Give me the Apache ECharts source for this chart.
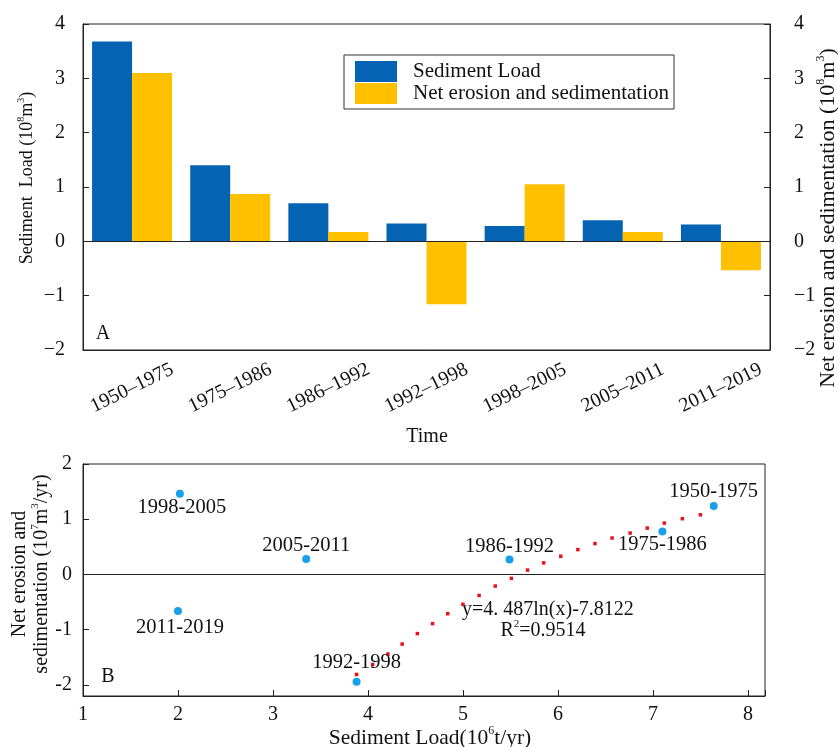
<!DOCTYPE html>
<html><head><meta charset="utf-8">
<script src="https://cdn.jsdelivr.net/npm/echarts@6/dist/echarts.min.js"></script>
<style>html,body{margin:0;padding:0;background:#fff}#c{width:838px;height:747px}</style>
</head><body><div id="c"></div>
<script>
// ---- Panel A data ----
const periods = ['1950–1975','1975–1986','1986–1992','1992–1998','1998–2005','2005–2011','2011–2019'];
const sedimentLoad = [3.68, 1.40, 0.70, 0.33, 0.28, 0.39, 0.31];
const netErosion = [3.10, 0.87, 0.17, -1.16, 1.05, 0.17, -0.53];
const yTicksTop = [-2, -1, 0, 1, 2, 3, 4];
// ---- Panel B data ----
const scatterNames = ['1950-1975','1975-1986','1986-1992','1992-1998','1998-2005','2005-2011','2011-2019'];
const scatterLoad = [7.64, 7.10, 5.49, 3.88, 2.02, 3.35, 2.00];
const scatterNet = [1.24, 0.78, 0.27, -1.94, 1.46, 0.28, -0.66];
const trendX = [3.88,4.05,4.21,4.36,4.52,4.68,4.84,5.00,5.17,5.34,5.51,5.68,5.85,6.03,6.21,6.39,6.57,6.76,6.94,7.12,7.31,7.50];
const trendY = [-1.81,-1.63,-1.44,-1.26,-1.07,-0.89,-0.71,-0.54,-0.38,-0.21,-0.07,0.08,0.21,0.33,0.45,0.56,0.66,0.75,0.84,0.93,1.01,1.08];
const yTicksBottom = [-2, -1, 0, 1, 2];
const xTicksBottom = [1, 2, 3, 4, 5, 6, 7, 8];

const FF = 'Liberation Serif';
const TXT = '#111';
const chart = echarts.init(document.getElementById('c'));

const labelOffsets = {
  '1950-1975': [0, -14], '1975-1986': [0, 13], '1986-1992': [0, -13],
  '1992-1998': [0, -19], '1998-2005': [2, 14], '2005-2011': [0, -13], '2011-2019': [2, 17]
};

function rich(size) {
  return {
    n: { fontSize: size, fontFamily: FF, color: TXT, lineHeight: size + 4 },
    s: { fontSize: Math.round(size * 0.55), fontFamily: FF, color: TXT, verticalAlign: 'top', lineHeight: Math.round(size * 0.55) }
  };
}
function gtext(x, y, text, size, rot, align) {
  return {
    type: 'text', x: x, y: y, rotation: rot || 0, silent: true,
    style: { text: text, rich: rich(size), font: size + 'px ' + FF, fill: TXT,
      align: align || 'center', verticalAlign: 'middle' }
  };
}

const axisLineStyle = { color: '#222', width: 1 };
const topYAxis = (pos) => ({
  type: 'value', gridIndex: 0, position: pos, min: -2, max: 4, interval: 1,
  axisLine: { show: true, lineStyle: axisLineStyle },
  axisTick: { show: true, inside: true, length: 6, lineStyle: axisLineStyle },
  splitLine: { show: false },
  axisLabel: { margin: pos === 'left' ? 18 : 24, fontSize: 20, fontFamily: FF, color: TXT,
    formatter: v => (yTicksTop.includes(v) ? String(v).replace('-', '−') : '') }
});

const option = {
  animation: false,
  backgroundColor: '#fff',
  grid: [
    { left: 83, right: 68, top: 24, bottom: 397, show: true, borderColor: '#222', borderWidth: 1, containLabel: false, outerBoundsMode: 'none' },
    { left: 83, right: 73, top: 464, bottom: 51, show: true, borderColor: '#222', borderWidth: 1, containLabel: false, outerBoundsMode: 'none' }
  ],
  legend: {
    data: ['Sediment Load', 'Net erosion and sedimentation'],
    orient: 'vertical', left: 344, top: 55, icon: 'rect',
    itemWidth: 42, itemHeight: 21, itemGap: 1,
    padding: [6, 5, 5, 11], borderColor: '#333', borderWidth: 1,
    textStyle: { fontSize: 21, fontFamily: FF, color: TXT, padding: [0, 0, 0, 11] }
  },
  xAxis: [
    { type: 'category', gridIndex: 0, data: periods, boundaryGap: true,
      axisLine: { onZero: false, lineStyle: axisLineStyle },
      axisTick: { inside: true, alignWithLabel: true, length: 7, lineStyle: axisLineStyle },
      axisLabel: { rotate: 26, align: 'center', verticalAlign: 'middle', margin: 38, fontSize: 20, fontFamily: FF, color: TXT, interval: 0 },
      splitLine: { show: false } },
    { type: 'value', gridIndex: 1, min: 1, max: 8.18, interval: 1,
      axisLine: { onZero: false, lineStyle: axisLineStyle },
      axisTick: { inside: true, length: 6, lineStyle: axisLineStyle },
      splitLine: { show: false },
      axisLabel: { margin: 9, fontSize: 20, fontFamily: FF, color: TXT,
        formatter: v => (xTicksBottom.includes(v) ? String(v) : '') } }
  ],
  yAxis: [
    topYAxis('left'),
    topYAxis('right'),
    { type: 'value', gridIndex: 1, min: -2.2, max: 2, splitNumber: 4,
      axisLine: { onZero: false, lineStyle: axisLineStyle },
      axisTick: { inside: true, length: 6, lineStyle: axisLineStyle },
      splitLine: { show: false },
      axisLabel: { margin: 11, fontSize: 20, fontFamily: FF, color: TXT,
        formatter: v => { const r = Math.round(v); return (Math.abs(v - r) < 1e-9 && yTicksBottom.includes(r)) ? String(r) : ''; } } }
  ],
  series: [
    { name: 'Sediment Load', type: 'bar', xAxisIndex: 0, yAxisIndex: 0, data: sedimentLoad,
      barWidth: 40, barGap: '0%', itemStyle: { color: '#0563b4' },
      markLine: { silent: true, symbol: 'none', label: { show: false },
        lineStyle: { color: '#222', width: 1, type: 'solid' }, data: [{ yAxis: 0 }] } },
    { name: 'Net erosion and sedimentation', type: 'bar', xAxisIndex: 0, yAxisIndex: 1, data: netErosion,
      barWidth: 40, barGap: '0%', itemStyle: { color: '#ffc000' } },
    { name: 'trend', type: 'scatter', xAxisIndex: 1, yAxisIndex: 2, silent: true,
      symbol: 'rect', symbolSize: 3.5, itemStyle: { color: '#e8101a', opacity: 1 },
      data: trendX.map((x, i) => [x, trendY[i]]),
      markLine: { silent: true, symbol: 'none', label: { show: false },
        lineStyle: { color: '#222', width: 1, type: 'solid' }, data: [{ yAxis: 0 }] } },
    { name: 'periods', type: 'scatter', xAxisIndex: 1, yAxisIndex: 2, symbolSize: 8,
      itemStyle: { color: '#1a9fe8', opacity: 1 },
      data: scatterNames.map((n, i) => ({ name: n, value: [scatterLoad[i], scatterNet[i]],
        label: { show: true, position: 'inside', offset: labelOffsets[n], formatter: '{b}',
          fontSize: 20.5, fontFamily: FF, color: TXT, opacity: 1 } })) }
  ],
  graphic: [
    gtext(103, 334, 'A', 20),
    gtext(108, 677, 'B', 20),
    gtext(427, 437, 'Time', 20),
    gtext(27, 178, '{n|Sediment  Load (10}{s|8}{n|m}{s|3}{n|)}', 18, Math.PI / 2),
    gtext(828, 218, '{n|Net erosion and sedimentation (10}{s|8}{n|m}{s|3}{n|)}', 22, Math.PI / 2),
    gtext(20, 574, '{n|Net erosion and}', 20, Math.PI / 2),
    gtext(42, 574, '{n|sedimentation (10}{s|7}{n|m}{s|3}{n|/yr)}', 20, Math.PI / 2),
    gtext(430, 738, '{n|Sediment Load(10}{s|6}{n|t/yr)}', 21.5),
    gtext(462, 610, '{n|y=4. 487ln(x)-7.8122}', 20, 0, 'left'),
    gtext(543, 631, '{n|R}{s|2}{n|=0.9514}', 20)
  ]
};
chart.setOption(option);
</script>
</body></html>
